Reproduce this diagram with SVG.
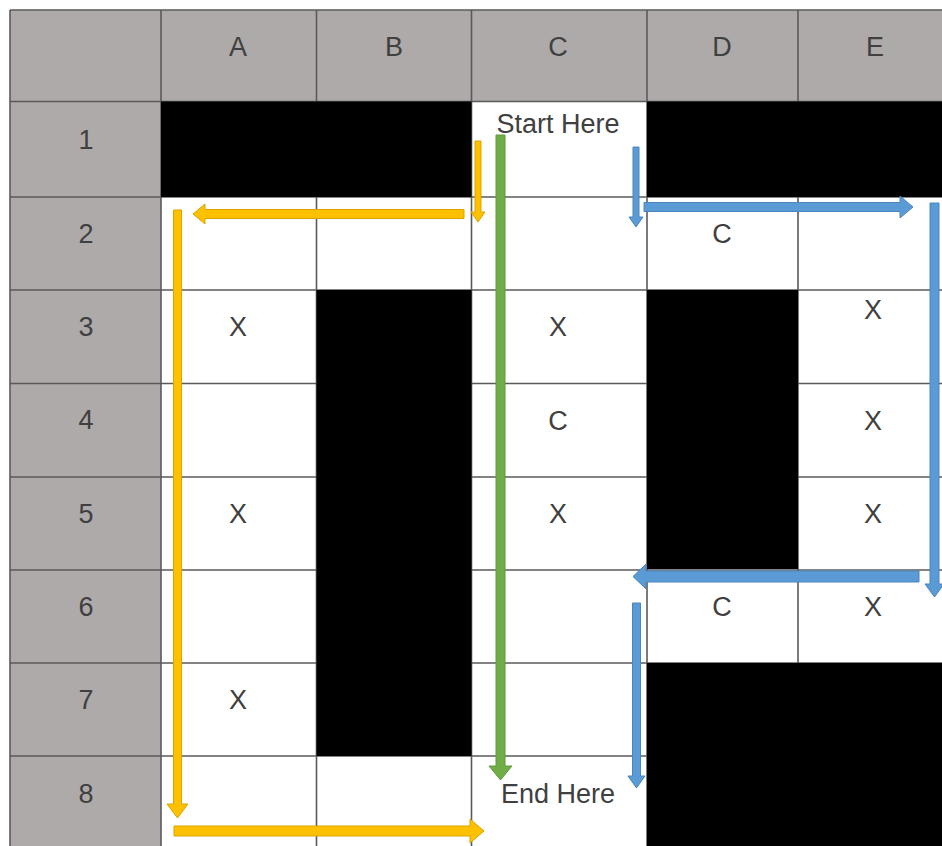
<svg xmlns="http://www.w3.org/2000/svg" width="942" height="846" viewBox="0 0 942 846">
<style>
.hdr{fill:#aeaaa9}
.blk{fill:#000}
.ln{stroke:#5a5a5a;stroke-width:1.6;fill:none}
.t{font-family:"Liberation Sans",Arial,sans-serif;font-size:27px;fill:#404040;text-anchor:middle;dominant-baseline:central}
.y{fill:#ffc000;stroke:#d9a400;stroke-width:1}
.b{fill:#5b9bd5;stroke:#4a85bd;stroke-width:1}
.g{fill:#70ad47;stroke:#5e9a3a;stroke-width:1}
</style>
<rect x="0" y="0" width="942" height="846" fill="#fff"/>
<g id="grid">
<rect class="hdr" x="10" y="10" width="932" height="91.5"/>
<rect class="hdr" x="10" y="10" width="151" height="836"/>
<g class="ln">
<line x1="10" y1="10" x2="942" y2="10"/>
<line x1="10" y1="101.5" x2="942" y2="101.5"/>
<line x1="10" y1="197" x2="942" y2="197"/>
<line x1="10" y1="290" x2="942" y2="290"/>
<line x1="10" y1="383.5" x2="942" y2="383.5"/>
<line x1="10" y1="477" x2="942" y2="477"/>
<line x1="10" y1="570" x2="942" y2="570"/>
<line x1="10" y1="663" x2="942" y2="663"/>
<line x1="10" y1="756" x2="942" y2="756"/>
<line x1="10" y1="10" x2="10" y2="846"/>
<line x1="161" y1="10" x2="161" y2="846"/>
<line x1="316.5" y1="10" x2="316.5" y2="846"/>
<line x1="471.5" y1="10" x2="471.5" y2="846"/>
<line x1="647" y1="10" x2="647" y2="846"/>
<line x1="798" y1="10" x2="798" y2="846"/>
</g>
<rect class="blk" x="161" y="101.5" width="310.5" height="95.5"/>
<rect class="blk" x="647" y="101.5" width="295" height="95.5"/>
<rect class="blk" x="316.5" y="290" width="155" height="466"/>
<rect class="blk" x="647" y="290" width="151" height="279"/>
<rect class="blk" x="647" y="663" width="295" height="183"/>
</g>
<g id="col-headers">
<text class="t" x="238" y="47">A</text>
<text class="t" x="394" y="47">B</text>
<text class="t" x="558" y="47">C</text>
<text class="t" x="722" y="47">D</text>
<text class="t" x="875" y="47">E</text>
</g>
<g id="row-headers">
<text class="t" x="86" y="140">1</text>
<text class="t" x="86" y="234">2</text>
<text class="t" x="86" y="327">3</text>
<text class="t" x="86" y="420">4</text>
<text class="t" x="86" y="514">5</text>
<text class="t" x="86" y="607">6</text>
<text class="t" x="86" y="700">7</text>
<text class="t" x="86" y="794">8</text>
</g>
<g id="start"><text class="t" x="558" y="124">Start Here</text></g>
<g id="end"><text class="t" x="558" y="794">End Here</text></g>
<g id="D2"><text class="t" x="722" y="234">C</text></g>
<g id="A3"><text class="t" x="238" y="327">X</text></g>
<g id="C3"><text class="t" x="558" y="327">X</text></g>
<g id="E3"><text class="t" x="873" y="310">X</text></g>
<g id="C4"><text class="t" x="558" y="421">C</text></g>
<g id="E4"><text class="t" x="873" y="421">X</text></g>
<g id="A5"><text class="t" x="238" y="514">X</text></g>
<g id="C5"><text class="t" x="558" y="514">X</text></g>
<g id="E5"><text class="t" x="873" y="514">X</text></g>
<g id="D6"><text class="t" x="722" y="607">C</text></g>
<g id="E6"><text class="t" x="873" y="607">X</text></g>
<g id="A7"><text class="t" x="238" y="700">X</text></g>
<g id="connectors">
<path class="y" d="M475,141 H481 V212 H485 L478,222 L471,212 H475 Z"/>
<path class="y" d="M464,209.5 V218.5 H205 V224 L193,214 L205,204 V209.5 Z"/>
<path class="y" d="M173.5,210 H181.5 V804 H188 L177.5,818 L167,804 H173.5 Z"/>
<path class="y" d="M174,826 H470 V819 L484,831 L470,843 V836 H174 Z"/>
<path class="g" d="M496,135 H505 V766 H512 L500.5,780 L489,766 H496 Z"/>
<path class="b" d="M633,147 H639 V217 H643 L636,227 L629,217 H633 Z"/>
<path class="b" d="M644,202.5 H900 V196 L913,207 L900,218 V211.5 H644 Z"/>
<path class="b" d="M930,203 H939 V584 H944 L934.5,597 L925,584 H930 Z"/>
<path class="b" d="M919,571 V582 H646 V589 L633,576.5 L646,564 V571 Z"/>
<path class="b" d="M632.5,603 H640.5 V776 H645 L636.5,788 L628,776 H632.5 Z"/>
</g>
</svg>
